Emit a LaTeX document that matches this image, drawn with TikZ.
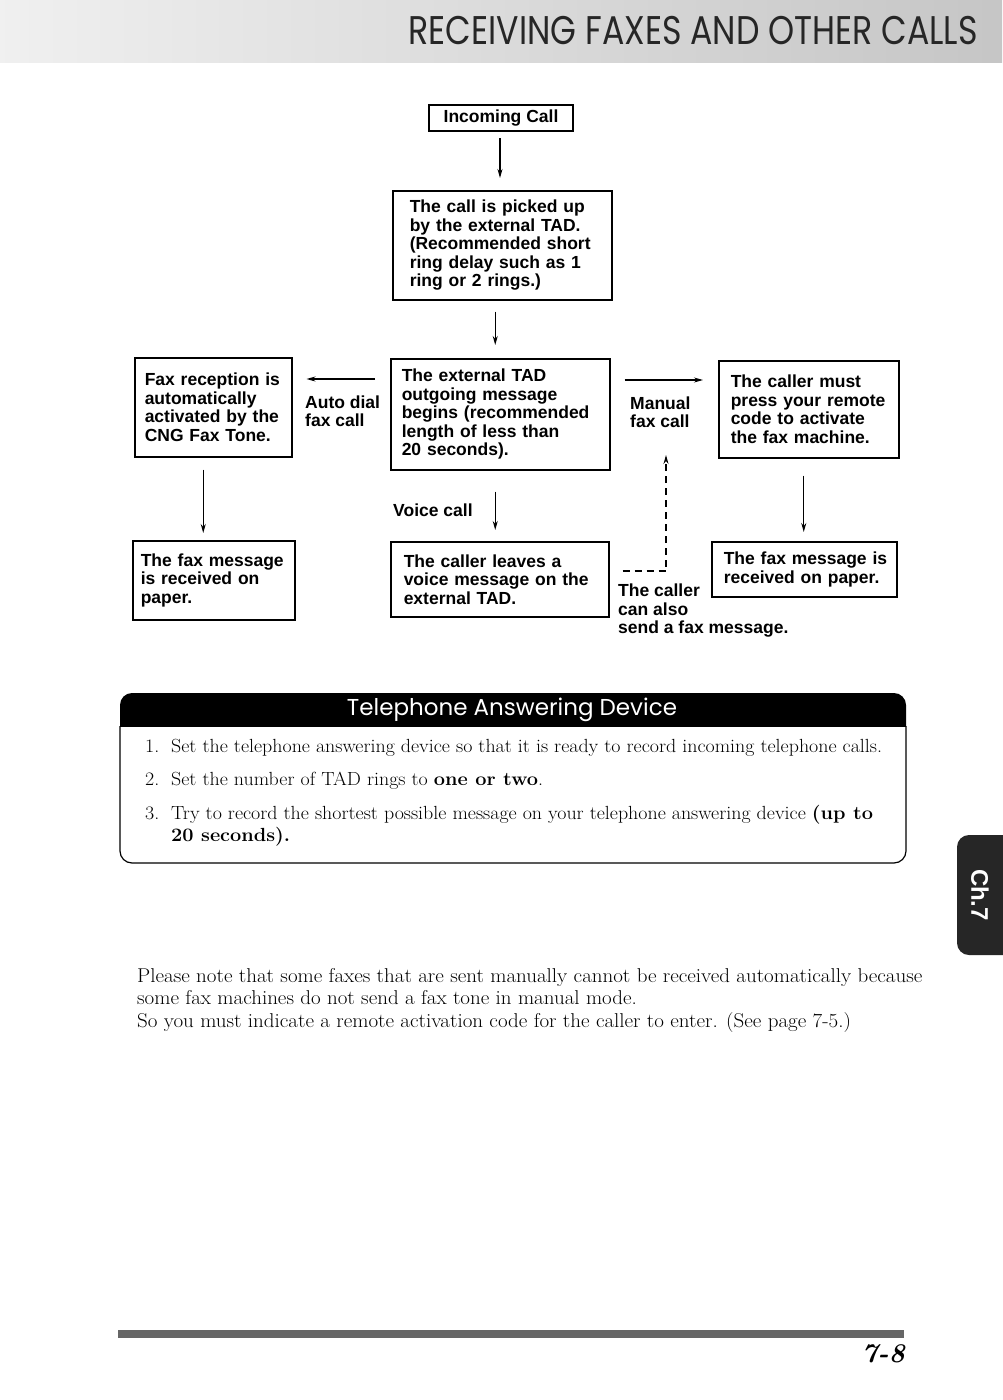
\documentclass[tikz,border=0pt]{standalone}
\usepackage{fontspec}
\usepackage{graphicx}
\newfontfamily\boxfont{Liberation Sans}
\newfontfamily\geofont{Poppins}
\usetikzlibrary{arrows.meta,calc}
\newcommand\widen[1]{\scalebox{1.05}[1]{#1}}
\begin{document}
\begin{tikzpicture}[x=1pt,y=-1pt,
  box/.style={draw, line width=1.5pt, anchor=north west, align=left, inner ysep=0pt,
    font=\boxfont\bfseries\fontsize{17.5}{18.5}\selectfont},
  lbl/.style={align=left, inner sep=0pt, font=\boxfont\bfseries\fontsize{17.5}{18.5}\selectfont},
  arr/.style={line width=1.1pt, -{Stealth[length=9pt,width=5pt]}},
  serif/.style={inner sep=0pt, font=\fontsize{19}{22}\selectfont},
  pserif/.style={inner sep=0pt, font=\fontsize{20}{22}\selectfont}
]
\useasboundingbox (0,0) rectangle (1002,1400);
\fill[white] (0,0) rectangle (1002,1400);

% header band
\fill[left color=gray!12, right color=gray!45] (0,0) rectangle (1002,62);
\node[anchor=east, inner sep=0pt, text=black!85, font=\geofont\fontsize{40}{40}\selectfont] (title) at (978,31)
  {\scalebox{0.83}[1]{RECEIVING FAXES AND OTHER CALLS}};

% flow chart boxes
\node[box, line width=2pt, minimum width=144pt, minimum height=26pt, align=center, inner xsep=0pt] (inc) at (428,104) {Incoming Call};
\node[box, text width=185pt, inner xsep=17pt, minimum height=109pt] (box2) at (392,190)
  {\mbox{The call is picked up}\\\mbox{by the external TAD.}\\\mbox{(Recommended short}\\\mbox{ring delay such as 1}\\\mbox{ring or 2 rings.)}};
\node[box, text width=137pt, inner xsep=10pt, minimum height=99pt] (fax) at (134,357)
  {\mbox{Fax reception is}\\\mbox{automatically}\\\mbox{activated by the}\\\mbox{CNG Fax Tone.}};
\node[box, text width=197pt, inner xsep=11pt, minimum height=111pt] (tad) at (390,358)
  {\mbox{The external TAD}\\\mbox{outgoing message}\\\mbox{begins (recommended}\\\mbox{length of less than}\\\mbox{20 seconds).}};
\node[box, text width=156pt, inner xsep=12pt, minimum height=97pt] (caller) at (718,360)
  {\mbox{The caller must}\\\mbox{press your remote}\\\mbox{code to activate}\\\mbox{the fax machine.}};
\node[box, text width=146pt, inner xsep=8pt, minimum height=79pt] (fax3) at (132,540)
  {\mbox{The fax message}\\\mbox{is received on}\\\mbox{paper.}};
\node[box, text width=192pt, inner xsep=13pt, minimum height=75pt] (mid3) at (390,541)
  {\mbox{The caller leaves a}\\\mbox{voice message on the}\\\mbox{external TAD.}};
\node[box, text width=161pt, inner xsep=12pt, minimum height=55pt] (right3) at (711,541)
  {\mbox{The fax message is}\\\mbox{received on paper.}};

% labels
\node[lbl, anchor=west] (auto) at (305,411) {Auto dial\\fax call};
\node[lbl, anchor=west] (manual) at (630,412) {Manual\\fax call};
\node[lbl, anchor=west] (voice) at (393,510) {Voice call};
\node[lbl, anchor=north west] (also) at (618,584) {The caller\\can also\\send a fax message.};

% connectors
\draw[arr, shorten <=6pt, shorten >=12pt] ([xshift=-1pt]inc.south) -- ([xshift=-1pt]inc.south |- box2.north);
\draw[arr, shorten <=11pt, shorten >=13pt] ([xshift=-7pt]box2.south) -- ([xshift=-7pt]box2.south |- tad.north);
\draw[arr, shorten <=15pt, shorten >=14pt] (tad.west |- 0,379) -- (fax.east |- 0,379);
\draw[arr, shorten <=14pt, shorten >=15pt] (tad.east |- 0,380) -- (caller.west |- 0,380);
\draw[arr, shorten <=12pt, shorten >=7pt] ([xshift=-10pt]fax.south) -- ([xshift=-10pt]fax.south |- fax3.north);
\draw[arr, shorten <=21pt, shorten >=11pt] ([xshift=-5pt]tad.south) -- ([xshift=-5pt]tad.south |- mid3.north);
\draw[arr, shorten <=17pt, shorten >=9pt] ([xshift=-5pt]caller.south) -- ([xshift=-5pt]caller.south |- right3.north);
\coordinate (tip) at (666,455);
\draw[arr, dash pattern=on 7pt off 5pt, shorten <=13pt] (mid3.east |- 0,571) -| (tip);

% Telephone Answering Device panel
\begin{scope}
  \clip (100,680) rectangle (930,726);
  \fill[black, rounded corners=12pt] (120,693) rectangle (906,760);
\end{scope}
\begin{scope}
  \clip (100,726) rectangle (930,880);
  \draw[line width=1.2pt, rounded corners=12pt] (120,700) rectangle (906,863);
\end{scope}
\node[text=white, inner sep=0pt, font=\geofont\fontsize{23}{23}\selectfont] (tadhead) at (512,710) {Telephone Answering Device};

\node[serif, anchor=base west] (i1n) at (145,752) {\widen{1.}};
\node[serif, anchor=base west] (i1) at (171,752) {\widen{Set the telephone answering device so that it is ready to record incoming telephone calls.}};
\node[serif, anchor=base west] (i2n) at (145,785) {\widen{2.}};
\node[serif, anchor=base west] (i2) at (171,785) {\widen{Set the number of TAD rings to \textbf{one or two}.}};
\node[serif, anchor=base west] (i3n) at (145,819) {\widen{3.}};
\node[serif, anchor=base west] (i3) at (171,819) {\widen{Try to record the shortest possible message on your telephone answering device \textbf{(up to}}};
\node[serif, anchor=base west] (i3b) at (171,841) {\widen{\textbf{20 seconds).}}};

% side tab
\fill[black!85, rounded corners=12pt] (957,835) rectangle (1030,955);
\node[rotate=-90, text=white, inner sep=0pt, font=\boxfont\bfseries\fontsize{24}{24}\selectfont] (tab) at (980,895) {Ch.7};

% note paragraph
\node[pserif, anchor=base west] (p1) at (137,982) {\widen{Please note that some faxes that are sent manually cannot be received automatically because}};
\node[pserif, anchor=base west] (p2) at (137,1004) {\widen{some fax machines do not send a fax tone in manual mode.}};
\node[pserif, anchor=base west] (p3) at (137,1027) {\widen{So you must indicate a remote activation code for the caller to enter. (See page 7-5.)}};

% footer
\fill[black!60] (118,1330) rectangle (904,1338);
\node[anchor=base east, inner sep=0pt, font=\bfseries\itshape\fontsize{27}{27}\selectfont] (pg) at (905,1362) {7-8};
\end{tikzpicture}
\end{document}
